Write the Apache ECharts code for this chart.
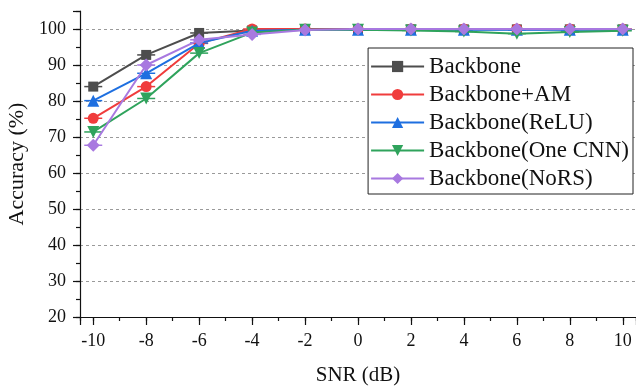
<!DOCTYPE html>
<html><head><meta charset="utf-8">
<script src="https://cdn.jsdelivr.net/npm/echarts@6/dist/echarts.min.js"></script>
<style>html,body{margin:0;padding:0;background:#fff}#c{width:636px;height:388px}</style>
</head><body><div id="c"></div>
<script>
const snr = [-10, -8, -6, -4, -2, 0, 2, 4, 6, 8, 10];
const xTickLabels = ['-10', '-8', '-6', '-4', '-2', '0', '2', '4', '6', '8', '10'];
const yTickLabels = ['20', '30', '40', '50', '60', '70', '80', '90', '100'];
const names = ['Backbone', 'Backbone+AM', 'Backbone(ReLU)', 'Backbone(One CNN)', 'Backbone(NoRS)'];
const backbone = [84, 92.8, 98.9, 99.6, 99.9, 99.9, 99.9, 99.9, 99.9, 99.9, 99.9];
const backboneAM = [75.2, 84, 96, 100, 100, 100, 100, 100, 100, 100, 100];
const backboneReLU = [80.1, 87.7, 96.1, 99.5, 99.8, 99.8, 99.8, 99.8, 99.8, 99.8, 99.8];
const backboneOneCNN = [71.4, 80.7, 93.3, 99, 99.8, 99.8, 99.6, 99.3, 98.7, 99.2, 99.5];
const backboneNoRS = [67.7, 90, 97, 98.5, 99.7, 100, 100, 100, 100, 100, 100];
const allData = [backbone, backboneAM, backboneReLU, backboneOneCNN, backboneNoRS];
const colors = ['#4d4d4d', '#f03c3c', '#1e6fe0', '#2fa35c', '#a879e0'];
const symbols = ['rect', 'circle', 'triangle', 'path://M0,0 L10,0 L5,9 Z', 'diamond'];
const sizes = [10, 11, 12, 12, 13];
const font = 'Liberation Serif, Times New Roman, serif';

const chart = echarts.init(document.getElementById('c'));
const axisCommonX = {type: 'value', min: -10.5, max: 10.5, gridIndex: 0};
chart.setOption({
  animation: false,
  grid: {left: 80, right: 0, top: 11, bottom: 71, containLabel: false, outerBoundsMode: 'none'},
  legend: {
    orient: 'vertical', right: 3, top: 48, itemWidth: 53, itemHeight: 14, itemGap: 5,
    padding: [7, 4, 4, 2], borderColor: '#222', borderWidth: 1, backgroundColor: '#fff',
    textStyle: {fontFamily: font, fontSize: 23, color: '#111'},
    data: names
  },
  xAxis: [
    Object.assign({}, axisCommonX, {
      splitNumber: 10,
      axisLine: {onZero: false, lineStyle: {color: '#111', width: 1.2}},
      axisTick: {length: 8, lineStyle: {color: '#111', width: 1.2}},
      splitLine: {show: false},
      axisLabel: {fontFamily: font, fontSize: 18, color: '#111', margin: 15,
        formatter: v => { const i = snr.indexOf(v); return i >= 0 ? xTickLabels[i] : ''; }},
      name: 'SNR (dB)', nameLocation: 'middle', nameGap: 48,
      nameTextStyle: {fontFamily: font, fontSize: 21, color: '#111'}
    }),
    Object.assign({}, axisCommonX, {
      splitNumber: 21, position: 'bottom',
      axisLine: {show: false, onZero: false},
      axisTick: {length: 4, lineStyle: {color: '#111', width: 1.2}},
      splitLine: {show: false}, axisLabel: {show: false}
    })
  ],
  yAxis: [
    {
      type: 'value', min: 20, max: 105, interval: 10,
      axisLine: {show: true, onZero: false, lineStyle: {color: '#111', width: 1.2}},
      axisTick: {show: true, length: 7, lineStyle: {color: '#111', width: 1.2}},
      splitLine: {show: true, showMaxLine: false, lineStyle: {color: '#9a9a9a', type: [3, 3], width: 1}},
      axisLabel: {fontFamily: font, fontSize: 18, color: '#111', margin: 14,
        formatter: v => { const s = String(v); return yTickLabels.includes(s) ? s : ''; }},
      name: 'Accuracy (%)', nameLocation: 'middle', nameGap: 47,
      nameTextStyle: {fontFamily: font, fontSize: 22, color: '#111'}
    },
    {
      type: 'value', min: 20, max: 105, interval: 5, position: 'left',
      axisLine: {show: false, onZero: false},
      axisTick: {show: true, length: 4, lineStyle: {color: '#111', width: 1.2}},
      splitLine: {show: false}, axisLabel: {show: false}
    }
  ],
  series: names.map((n, i) => ({
    name: n + ' err', type: 'custom', xAxisIndex: 0, yAxisIndex: 0, z: 2 + i,
    data: snr.map((x, j) => [x, allData[i][j]]),
    renderItem: (params, api) => {
      const p = api.coord([api.value(0), api.value(1)]);
      return {type: 'line', shape: {x1: p[0] - 9, y1: p[1], x2: p[0] + 9, y2: p[1]},
        style: {stroke: colors[i], lineWidth: 1.5}};
    }
  })).concat(names.map((n, i) => ({
    name: n, type: 'line', xAxisIndex: 0, yAxisIndex: 0,
    data: snr.map((x, j) => [x, allData[i][j]]),
    symbol: symbols[i], symbolSize: sizes[i],
    lineStyle: {color: colors[i], width: 2},
    itemStyle: {color: colors[i]}, z: 3 + i
  })))
});
</script></body></html>
